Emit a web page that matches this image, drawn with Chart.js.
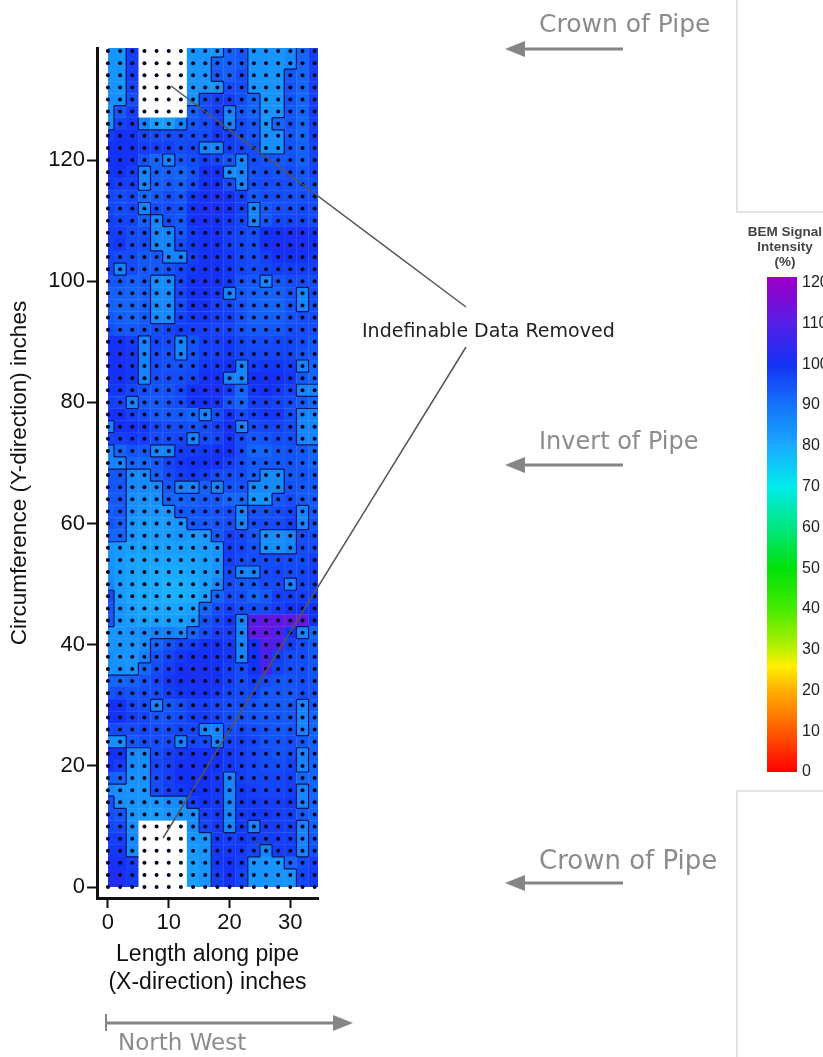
<!DOCTYPE html>
<html>
<head>
<meta charset="utf-8">
<title>BEM Signal Intensity</title>
<script src="https://cdn.jsdelivr.net/npm/chart.js@4"></script>
<style>
html, body { margin: 0; padding: 0; background: #fff; overflow: hidden; }
#page { position: relative; width: 823px; height: 1057px; overflow: hidden; filter: blur(0.7px); }
canvas { position: absolute; display: block; }
#mapChart { left: 0; top: 0; }
#barChart { left: 747px; top: 224px; }
svg { position: absolute; left: 0; top: 0; }
.note { position: absolute; white-space: nowrap; font-family: "DejaVu Sans", sans-serif; color: #8c8c8c; line-height: 1; }
.scaleTitle { position: absolute; left: 735px; width: 100px; text-align: center; font: bold 13.5px/15px "Liberation Sans", Arial, sans-serif; color: #444; top: 224px; }
</style>
</head>
<body>
<div id="page">
  <canvas id="mapChart" width="823" height="1057"></canvas>
  <canvas id="barChart" width="76" height="558"></canvas>
  <svg width="823" height="1057">
    <g fill="none" stroke="#dcdcdc" stroke-width="1.5">
      <path d="M737 0V212H823"/>
      <path d="M823 791H737V1057"/>
    </g>
    <g stroke="#555" stroke-width="1.5">
      <line x1="466" y1="307" x2="171" y2="86"/>
      <line x1="466" y1="347" x2="163" y2="838"/>
    </g>
    <g stroke="#858585" stroke-width="3" fill="#858585">
      <line x1="520" y1="49" x2="623" y2="49"/>
      <path d="M505 49L525 41V57Z" stroke="none"/>
      <line x1="520" y1="465" x2="623" y2="465"/>
      <path d="M505 465L525 457V473Z" stroke="none"/>
      <line x1="520" y1="883" x2="623" y2="883"/>
      <path d="M505 883L525 875V891Z" stroke="none"/>
      <line x1="106" y1="1023" x2="338" y2="1023"/>
      <line x1="106" y1="1014" x2="106" y2="1031" stroke-width="2"/>
      <path d="M353 1023L333 1015V1031Z" stroke="none"/>
    </g>
  </svg>
  <div class="note" style="left:539px;top:11px;font-size:25px">Crown of Pipe</div>
  <div class="note" style="left:539px;top:429px;font-size:24px">Invert of Pipe</div>
  <div class="note" style="left:539px;top:847px;font-size:26px">Crown of Pipe</div>
  <div class="note" style="left:118px;top:1031px;font-size:23px">North West</div>
  <div class="note" style="left:362px;top:321px;font-size:19px;color:#222">Indefinable Data Removed</div>
  <div class="scaleTitle">BEM Signal<br>Intensity<br>(%)</div>
</div>
<script>
// pipe grid positions, inches
const xPositions = [0, 2, 4, 6, 8, 10, 12, 14, 16, 18, 20, 22, 24, 26, 28, 30, 32, 34];
const yPositions = [138, 136, 134, 132, 130, 128, 126, 124, 122, 120, 118, 116, 114, 112, 110, 108, 106, 104, 102, 100,
  98, 96, 94, 92, 90, 88, 86, 84, 82, 80, 78, 76, 74, 72, 70, 68, 66, 64, 62, 60,
  58, 56, 54, 52, 50, 48, 46, 44, 42, 40, 38, 36, 34, 32, 30, 28, 26, 24, 22, 20,
  18, 16, 14, 12, 10, 8, 6, 4, 2, 0];
const xTickValues = [0, 10, 20, 30];
const yTickValues = [0, 20, 40, 60, 80, 100, 120];
const scaleTickValues = [0, 10, 20, 30, 40, 50, 60, 70, 80, 90, 100, 110, 120];

// signal intensity (%), one row per yPositions entry, null = data removed
const n = null;
const signalRows = [
  [84,84,98,n,n,n,n,84,84,84,93,94,84,84,84,86,92,98],
  [84,84,98,n,n,n,n,84,84,93,93,94,84,84,84,86,92,98],
  [84,84,98,n,n,n,n,84,84,94,93,96,84,84,84,94,92,98],
  [84,84,97,n,n,n,n,84,84,84,96,96,84,84,84,95,92,98],
  [85,85,96,n,n,n,n,84,96,98,98,96,92,84,84,95,92,98],
  [85,94,98,n,n,n,n,93,96,98,87,94,92,84,84,94,92,98],
  [85,97,99,87,82,82,87,94,96,98,87,96,94,84,92,95,92,98],
  [98,100,100,97,96,96,96,96,96,99,98,96,94,85,85,94,92,98],
  [100,100,100,98,98,98,96,97,87,87,98,97,96,85,85,95,93,97],
  [100,100,100,95,92,87,94,96,98,97,94,87,96,95,94,95,93,97],
  [99,100,98,87,93,93,92,95,100,100,85,87,95,96,95,96,94,97],
  [99,98,98,87,93,94,93,96,100,100,96,87,96,96,96,96,95,96],
  [97,96,97,92,94,96,94,99,100,101,100,98,94,96,96,96,96,96],
  [97,96,97,87,96,96,95,100,101,101,100,98,87,94,96,96,97,96],
  [98,97,97,93,87,96,94,100,101,100,99,97,87,94,97,97,97,96],
  [98,98,96,96,87,87,94,99,100,100,98,97,96,100,100,101,101,100],
  [98,99,96,96,87,87,96,99,100,100,98,97,96,100,101,101,101,100],
  [97,96,96,94,94,87,87,98,100,100,99,97,96,98,100,100,100,99],
  [97,87,96,94,94,95,97,99,100,100,99,97,96,97,98,98,98,98],
  [94,94,93,94,86,86,97,100,101,100,99,95,94,87,94,96,96,96],
  [93,93,92,93,86,86,97,100,100,99,87,94,93,92,93,95,87,96],
  [93,92,92,93,86,86,96,100,100,98,97,95,93,92,92,95,87,96],
  [94,93,92,94,86,86,97,99,99,98,98,95,93,93,93,95,96,96],
  [96,94,94,95,96,97,98,98,98,97,97,95,94,94,94,96,96,96],
  [100,100,98,87,97,96,87,95,98,98,99,97,96,96,97,97,96,94],
  [100,101,99,87,96,95,87,95,98,98,99,97,97,97,97,97,95,94],
  [100,101,99,87,96,95,95,96,99,99,100,87,98,99,99,98,87,92],
  [100,100,99,87,96,96,96,97,100,100,87,87,100,100,100,99,94,92],
  [99,99,97,96,95,95,97,100,101,101,98,92,99,100,99,97,87,87],
  [98,97,87,94,94,95,96,100,100,100,95,92,98,98,97,96,94,92],
  [100,100,98,96,94,94,94,92,87,96,100,96,98,99,99,96,87,87],
  [87,100,100,99,97,96,96,95,96,98,100,87,96,97,97,96,87,87],
  [97,98,99,98,96,96,97,87,96,97,100,96,94,95,96,96,87,87],
  [87,92,95,94,87,87,98,98,99,100,100,96,92,92,94,95,94,92],
  [87,87,92,92,94,97,99,100,100,100,98,96,94,94,94,95,94,92],
  [94,94,86,86,93,96,98,99,98,96,96,96,93,86,86,94,95,94],
  [94,94,86,86,86,94,87,87,93,87,95,95,86,86,86,95,94,94],
  [94,94,85,85,85,93,92,93,94,94,92,92,84,84,94,96,94,94],
  [93,94,85,84,84,84,94,94,95,95,96,87,95,95,96,97,87,94],
  [95,93,84,83,83,83,84,94,94,95,96,87,96,96,96,98,87,95],
  [92,92,84,83,83,83,84,83,83,94,98,97,94,85,85,87,96,96],
  [84,83,82,82,82,82,82,82,83,84,98,97,95,85,85,87,96,96],
  [84,83,81,81,81,81,81,81,82,84,98,96,96,96,96,96,96,98],
  [85,83,81,81,80,80,80,81,82,84,96,87,87,96,97,96,97,98],
  [86,83,81,80,80,79,79,80,82,86,96,94,94,96,96,87,97,98],
  [96,83,81,80,80,79,79,80,82,92,96,96,92,94,98,98,98,98],
  [94,84,82,81,81,81,81,82,92,96,98,96,96,96,98,100,100,100],
  [94,84,83,82,82,82,82,84,95,97,99,87,110,112,112,112,112,100],
  [84,84,85,86,88,88,86,92,96,98,98,87,112,112,110,100,87,92],
  [84,84,84,86,92,95,97,98,100,100,99,87,100,110,108,98,96,94],
  [85,84,84,88,95,97,99,100,100,100,99,87,100,108,98,96,96,94],
  [85,85,84,92,96,98,100,101,101,100,98,96,100,108,97,96,96,95],
  [92,92,93,95,97,99,100,101,101,100,98,96,98,96,95,95,96,95],
  [95,96,95,96,96,98,99,100,100,99,97,96,97,94,94,94,96,95],
  [100,100,97,96,87,94,96,98,98,97,96,96,95,94,94,94,87,94],
  [100,100,98,97,95,95,96,98,98,97,96,95,95,94,94,94,87,92],
  [96,96,96,97,96,96,97,97,87,87,96,97,96,95,94,95,87,92],
  [85,85,94,96,96,96,87,97,96,87,97,98,97,95,95,96,94,93],
  [100,100,86,86,96,98,99,100,100,100,99,98,97,96,95,96,87,93],
  [100,98,86,85,97,98,100,101,100,100,99,98,97,96,96,97,87,92],
  [93,92,85,85,96,98,100,100,100,99,87,98,97,97,97,98,92,92],
  [86,85,84,84,96,98,99,100,100,99,87,99,98,97,97,98,87,92],
  [95,85,84,84,84,86,86,98,100,99,87,99,99,98,98,99,87,92],
  [96,94,84,83,83,84,84,85,98,99,87,99,99,99,98,98,94,93],
  [97,96,85,n,n,n,n,85,97,99,87,99,87,98,98,98,87,93],
  [98,98,86,n,n,n,n,84,84,99,98,99,98,98,98,98,87,94],
  [99,99,86,n,n,n,n,83,84,99,99,99,97,87,98,98,87,95],
  [101,100,98,n,n,n,n,82,84,99,100,98,84,84,84,92,96,98],
  [102,102,99,n,n,n,n,82,84,98,100,97,84,84,84,84,97,99],
  [102,102,99,n,n,n,n,82,84,98,100,97,84,84,84,84,97,99]
];

// colour bar: [percent, r, g, b]
const colorStops = [
  [0, 255, 0, 0], [10, 255, 90, 0], [20, 255, 175, 0], [26, 255, 240, 0], [30, 190, 240, 0],
  [40, 70, 235, 0], [50, 0, 225, 10], [60, 0, 230, 130], [70, 0, 235, 235], [80, 25, 170, 255],
  [90, 20, 115, 250], [100, 20, 50, 245], [110, 85, 30, 230], [120, 150, 0, 200]
];
const contourLevel = 90;

function signalColor(v) {
  for (let i = 1; i < colorStops.length; i++) {
    const a = colorStops[i - 1], b = colorStops[i];
    if (v <= b[0]) {
      const t = (v - a[0]) / (b[0] - a[0]);
      return 'rgb(' + [1, 2, 3].map(c => Math.round(a[c] + (b[c] - a[c]) * t)).join(',') + ')';
    }
  }
  return 'rgb(150,0,200)';
}

const cellPoints = [];
const gridPoints = [];
const contourPoints = [];
signalRows.forEach((row, r) => {
  row.forEach((v, k) => {
    const x = xPositions[k], y = yPositions[r];
    gridPoints.push({ x: x, y: y });
    if (v === null) return;
    cellPoints.push({ x: x, y: y, v: v });
    // contour runs along the cell edge wherever the level is crossed
    const right = row[k + 1];
    if (right !== undefined && right !== null && (v < contourLevel) !== (right < contourLevel)) {
      contourPoints.push({ x: x + 1, y: y - 1 }, { x: x + 1, y: y + 1 }, { x: null, y: null });
    }
    const below = signalRows[r + 1] ? signalRows[r + 1][k] : null;
    if (below !== null && (v < contourLevel) !== (below < contourLevel)) {
      contourPoints.push({ x: x - 1, y: y - 1 }, { x: x + 1, y: y - 1 }, { x: null, y: null });
    }
  });
});

const axisFont = { family: '"Liberation Sans", Arial, sans-serif', size: 22 };
const axisInk = '#111';
const plotClip = { left: -11, top: 0, right: 0, bottom: -11 };

function axisOptions(title, tickValues, min, max, fitSide, fitSize, titleSize, titleGap) {
  return {
    type: 'linear',
    min: min,
    max: max,
    afterBuildTicks: s => { s.ticks = tickValues.map(v => ({ value: v })); },
    afterFit: s => {
      s[fitSide] = fitSize;
      s.paddingLeft = s.paddingRight = s.paddingTop = s.paddingBottom = 0;
    },
    border: { display: true, color: axisInk, width: 3 },
    grid: { drawOnChartArea: false, drawTicks: true, tickLength: 10, tickWidth: 2, tickColor: axisInk },
    ticks: { color: axisInk, font: axisFont, padding: 2, maxRotation: 0, autoSkip: false },
    title: { display: true, text: title, color: axisInk, font: { family: axisFont.family, size: titleSize }, padding: { top: titleGap, bottom: 0 } }
  };
}

new Chart(document.getElementById('mapChart'), {
  type: 'scatter',
  data: {
    datasets: [
      {
        label: 'Signal',
        data: cellPoints,
        pointStyle: 'rect',
        pointBorderWidth: 0,
        pointRadius: 8.8,
        pointHoverRadius: 8.8,
        pointBackgroundColor: c => signalColor(c.raw.v),
        clip: plotClip,
        order: 3
      },
      {
        label: 'Contour',
        data: contourPoints,
        showLine: true,
        spanGaps: false,
        pointRadius: 0,
        borderColor: '#0c1560',
        borderWidth: 1.2,
        clip: plotClip,
        order: 2
      },
      {
        label: 'Grid',
        data: gridPoints,
        pointRadius: 2,
        pointBorderWidth: 0,
        pointBackgroundColor: '#060620',
        clip: false,
        order: 1
      }
    ]
  },
  options: {
    responsive: false,
    animation: false,
    events: [],
    layout: { padding: { left: 0, top: 48, right: 505, bottom: 61 } },
    plugins: { legend: { display: false }, tooltip: { enabled: false } },
    scales: {
      x: axisOptions(['Length along pipe', '(X-direction) inches'], xTickValues, -1.8, 34.55, 'height', 98, 23, 0),
      y: axisOptions('Circumference (Y-direction) inches', yTickValues, -1.8, 138.5, 'width', 97, 22.5, 6)
    }
  }
});

new Chart(document.getElementById('barChart'), {
  type: 'bar',
  data: {
    labels: ['BEM'],
    datasets: [{
      data: [[0, 121.4]],
      barPercentage: 1,
      categoryPercentage: 1,
      backgroundColor: c => {
        const area = c.chart.chartArea;
        if (!area) return '#1030ff';
        const yScale = c.chart.scales.y;
        const g = c.chart.ctx.createLinearGradient(0, yScale.getPixelForValue(0), 0, yScale.getPixelForValue(120));
        colorStops.forEach(s => g.addColorStop(s[0] / 120, 'rgb(' + s[1] + ',' + s[2] + ',' + s[3] + ')'));
        return g;
      }
    }]
  },
  options: {
    responsive: false,
    animation: false,
    events: [],
    layout: { padding: { left: 20, top: 53, right: 0, bottom: 10 } },
    plugins: { legend: { display: false }, tooltip: { enabled: false } },
    scales: {
      x: { display: false },
      y: {
        position: 'right',
        min: 0,
        max: 121.4,
        afterBuildTicks: s => { s.ticks = scaleTickValues.map(v => ({ value: v })); },
        afterFit: s => {
          s.width = 26;
          s.paddingLeft = s.paddingRight = s.paddingTop = s.paddingBottom = 0;
        },
        border: { display: false },
        grid: { display: false, drawTicks: false },
        ticks: { color: '#222', font: { family: axisFont.family, size: 16 }, padding: 5, autoSkip: false }
      }
    }
  }
});
</script>
</body>
</html>
